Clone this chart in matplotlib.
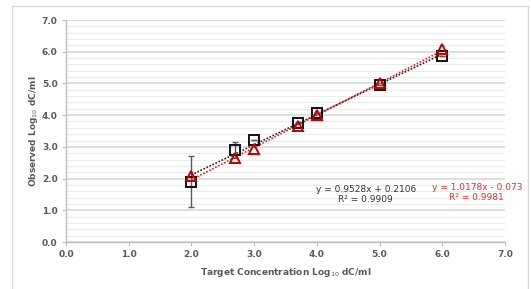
import numpy as np
import matplotlib.pyplot as plt
from matplotlib.patches import Rectangle

# data
target = [2.0, 2.7, 3.0, 3.7, 4.0, 5.0, 6.0]
obs_black = [1.90, 2.90, 3.22, 3.76, 4.06, 4.95, 5.86]
err_black = [0.81, 0.24, 0.0, 0.0, 0.0, 0.0, 0.0]
obs_red = [2.08, 2.64, 2.93, 3.66, 3.99, 5.01, 6.08]

fit_black = (0.9528, 0.2106)
fit_red = (1.0178, -0.073)

fig = plt.figure(figsize=(5.31, 2.89), dpi=100)
fig.patches.append(Rectangle((12 / 531, -0.1), (528 - 12) / 531, 1.1 - 6 / 289,
                             transform=fig.transFigure, fill=False,
                             edgecolor='#d9d9d9', linewidth=1.0))
ax = fig.add_axes([66 / 531, 1 - 242 / 289, (505 - 66) / 531, (242 - 20) / 289])

ax.set_xlim(0, 7)
ax.set_ylim(0, 7)
ax.set_xticks(np.arange(0, 7.1, 1))
ax.set_yticks(np.arange(0, 7.1, 1))
ax.set_yticks(np.arange(0, 7.01, 0.2), minor=True)
ax.set_xticklabels([f'{v:.1f}' for v in np.arange(0, 7.1, 1)])
ax.set_yticklabels([f'{v:.1f}' for v in np.arange(0, 7.1, 1)])
ax.grid(axis='y', which='major', color='#d9d9d9', linewidth=1.2, zorder=0)
ax.grid(axis='y', which='minor', color='#ececec', linewidth=0.8, zorder=0)
ax.tick_params(axis='y', which='minor', length=0)
ax.tick_params(which='major', length=3, color='#bfbfbf', labelsize=6.5,
               labelcolor='#595959', pad=3)
for lab in ax.get_xticklabels() + ax.get_yticklabels():
    lab.set_fontweight('bold')
for s in ['top', 'right']:
    ax.spines[s].set_visible(False)
for s in ['left', 'bottom']:
    ax.spines[s].set_color('#bfbfbf')
    ax.spines[s].set_linewidth(1.0)

xs = np.array([min(target), max(target)])
ax.plot(xs, fit_black[0] * xs + fit_black[1], color='#222222', linestyle=(0, (1, 1)),
        linewidth=1.2, zorder=2)
ax.plot(xs, fit_red[0] * xs + fit_red[1], color='#e02020', linestyle=(0, (1, 1)),
        linewidth=1.2, zorder=2)

ax.errorbar(target, obs_black, yerr=err_black, fmt='none', ecolor='#595959',
            elinewidth=1.0, capsize=2.5, zorder=3)
ax.plot(target, obs_black, linestyle='none', marker='s', markersize=6.5,
        markerfacecolor='none', markeredgecolor='#111111', markeredgewidth=1.4, zorder=4)
ax.plot(target, obs_red, linestyle='none', marker='^', markersize=6.5,
        markerfacecolor='none', markeredgecolor='#c00000', markeredgewidth=1.4, zorder=5)

ax.text(4.78, 1.5, 'y = 0.9528x + 0.2106\nR² = 0.9909', ha='center', va='center',
        fontsize=6.5, color='#333333', linespacing=1.2)
ax.text(6.55, 1.57, 'y = 1.0178x - 0.073\nR² = 0.9981', ha='center', va='center',
        fontsize=6.5, color='#e03030', linespacing=1.2, clip_on=False)

ax.set_xlabel('Target Concentration Log$_{10}$ dC/ml', fontsize=6.5, color='#595959',
              fontweight='bold', labelpad=5)
ax.set_ylabel('Observed Log$_{10}$ dC/ml', fontsize=6.5, color='#595959',
              fontweight='bold', labelpad=1)

fig.savefig('out.png', dpi=100)
